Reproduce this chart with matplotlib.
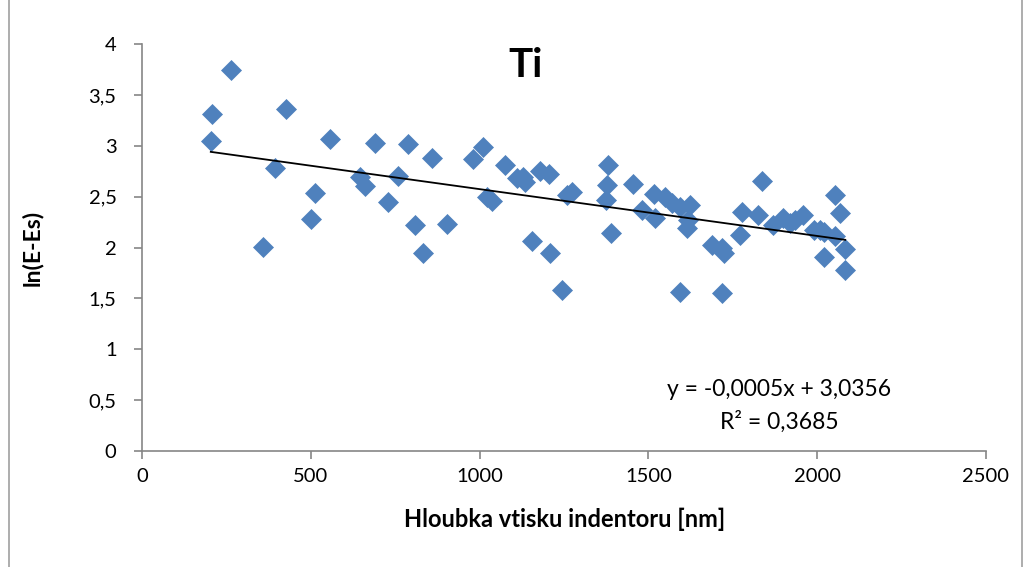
import numpy as np
import matplotlib
matplotlib.use("Agg")
import matplotlib.pyplot as plt
from matplotlib.ticker import FuncFormatter
from matplotlib.patches import Rectangle

plt.rcParams['font.family'] = ['Lato', 'DejaVu Sans']

# data
depth = [262, 207, 203, 425, 555, 690, 788, 858, 981, 1011,
         392, 645, 660, 757, 512, 729, 1021, 1036, 499, 808,
         904, 831, 358, 1075, 1110, 1128, 1134, 1179, 1206, 1258,
         1273, 1154, 1208, 1245, 1381, 1376, 1373, 1388, 1455, 1515,
         1480, 1520, 1549, 1569, 1594, 1623, 1618, 1613, 1592, 1688,
         1717, 1725, 1717, 1777, 1771, 1836, 1826, 1870, 1900, 1920,
         1935, 1959, 1990, 2009, 2019, 2020, 2053, 2068, 2053, 2083,
         2083]
ln_e = [3.75, 3.31, 3.05, 3.36, 3.07, 3.03, 3.02, 2.88, 2.87, 2.99,
        2.78, 2.69, 2.61, 2.70, 2.54, 2.45, 2.50, 2.46, 2.28, 2.22,
        2.23, 1.95, 2.01, 2.81, 2.68, 2.69, 2.65, 2.75, 2.72, 2.52,
        2.55, 2.07, 1.95, 1.58, 2.81, 2.62, 2.47, 2.14, 2.63, 2.53,
        2.37, 2.29, 2.50, 2.44, 2.40, 2.42, 2.27, 2.19, 1.56, 2.03,
        2.00, 1.95, 1.55, 2.35, 2.12, 2.66, 2.32, 2.22, 2.29, 2.24,
        2.27, 2.32, 2.17, 2.17, 2.15, 1.91, 2.52, 2.34, 2.11, 1.99,
        1.78]

x_ticks = [0, 500, 1000, 1500, 2000, 2500]
y_ticks = [0, 0.5, 1, 1.5, 2, 2.5, 3, 3.5, 4]

blue = '#4F81BD'
grey = '#868686'

fig = plt.figure(figsize=(10.28, 5.67), dpi=100)
ax = fig.add_axes([0.1384, 0.2046, 0.8207, 0.7173])

ax.plot(depth, ln_e, linestyle='none', marker='D', markersize=10,
        color=blue, markeredgecolor=blue, markeredgewidth=0.5, zorder=3)

# linear trend line
k, q = np.polyfit(depth, ln_e, 1)
xs = np.array([min(depth), max(depth)])
ax.plot(xs, k * xs + q, color='black', linewidth=1.3, zorder=4)

ax.set_xlim(0, 2500)
ax.set_ylim(0, 4)
ax.set_xticks(x_ticks)
ax.set_yticks(y_ticks)
ax.yaxis.set_major_formatter(FuncFormatter(lambda v, p: ('%g' % v).replace('.', ',')))

for s in ['top', 'right']:
    ax.spines[s].set_visible(False)
for s in ['left', 'bottom']:
    ax.spines[s].set_color(grey)
    ax.spines[s].set_linewidth(1.2)
ax.tick_params(direction='out', length=5.5, width=1.2, color=grey,
               labelsize=14.5, labelcolor='black')
ax.tick_params(axis='x', pad=7)
ax.tick_params(axis='y', pad=13)

ax.set_xlabel('Hloubka vtisku indentoru [nm]', fontsize=17, fontweight='bold')
ax.set_ylabel('ln(E-Es)', fontsize=16.5, fontweight='bold')
ax.xaxis.set_label_coords(0.501, -0.14)
ax.yaxis.set_label_coords(-0.118, 0.5)

fig.text(0.511, 0.885, 'Ti', fontsize=29, fontweight='bold', ha='center', va='center')
fig.text(0.758, 0.313, 'y = -0,0005x + 3,0356', fontsize=16.5, ha='center', va='center')
fig.text(0.758, 0.257, 'R² = 0,3685', fontsize=16.5, ha='center', va='center')

# chart area border
fig.patches.append(Rectangle((0.009, -0.01), 0.985, 1.03, transform=fig.transFigure,
                             fill=False, edgecolor='#a0a0a0', linewidth=1.2))

fig.savefig('out.png', dpi=100)
